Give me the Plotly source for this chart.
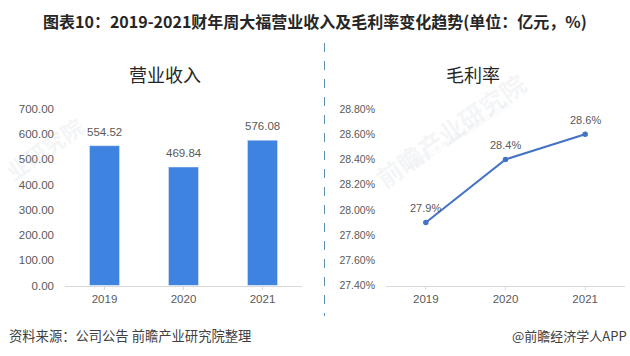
import plotly.graph_objects as go

years = ["2019", "2020", "2021"]
revenue = [554.52, 469.84, 576.08]
margin = [27.9, 28.4, 28.6]
margin_labels = ["27.9%", "28.4%", "28.6%"]
rev_ticks = [0, 100, 200, 300, 400, 500, 600, 700]
margin_ticks = [27.4, 27.6, 27.8, 28.0, 28.2, 28.4, 28.6, 28.8]

W, H = 630, 356
CJK = "Noto Sans CJK SC"
LAT = "Liberation Sans"
GRAY = "#595959"
BLUE = "#3f83e0"
LINE = "#4472c4"
WM = "rgba(185,192,205,0.18)"

fig = go.Figure()
fig.add_trace(go.Bar(x=years, y=revenue, width=0.38, marker_color=BLUE, xaxis="x", yaxis="y", showlegend=False))
fig.add_trace(go.Scatter(x=years, y=margin, mode="lines+markers", line=dict(color=LINE, width=2),
                         marker=dict(size=5.5, color=LINE), xaxis="x2", yaxis="y2", showlegend=False))


def xaxis(dom):
    return dict(domain=dom, type="category", range=[-0.5, 2.5], showgrid=False, showline=True,
                linecolor="#d9d9d9", linewidth=1, ticks="outside", tickcolor="#d9d9d9", ticklen=3,
                tickfont=dict(family=LAT, size=11.5, color=GRAY), zeroline=False)


def yaxis(rng, vals, text, anchor, size):
    return dict(range=rng, tickvals=vals, ticktext=text, showgrid=False, showline=False, zeroline=False,
                tickfont=dict(family=LAT, size=size, color=GRAY), anchor=anchor, ticks="",
                ticklabelstandoff=10, domain=[py(285.5), py(109)])


def px(v):
    return v / W


def py(v):
    return 1 - v / H


notes = [
    ("业研究院", 44, 148, 22, WM, "center", -35, "bold"),
    ("前瞻产业研究院", 450, 130, 25, WM, "center", -35, "bold"),
    ("中国产业咨询领导者(股票 839599)", 458, 135, 8, WM, "center", -32, "normal"),
    ("图表10：2019-2021财年周大福营业收入及毛利率变化趋势(单位：亿元，%)", 315, 21, 16, "#262626", "center", 0, "bold"),
    ("营业收入", 165, 74, 18, "#262626", "center", 0, "normal"),
    ("毛利率", 473, 74, 18, "#262626", "center", 0, "normal"),
    ("资料来源：公司公告 前瞻产业研究院整理", 7, 335, 13.3, "#404040", "left", 0, "normal"),
    ("@前瞻经济学人APP", 629, 335, 13, "#404040", "right", 0, "normal"),
]
annotations = []
for text, x, y, size, color, anchor, angle, weight in notes:
    annotations.append(dict(text=text, x=px(x), y=py(y), xref="paper", yref="paper", showarrow=False,
                            xanchor=anchor, yanchor="middle", textangle=angle,
                            font=dict(family=CJK, size=size, color=color, weight=weight)))
for i, v in enumerate(revenue):
    annotations.append(dict(text=f"{v:.2f}", x=i, y=v, xref="x", yref="y", showarrow=False, yshift=14,
                            yanchor="middle", font=dict(family=LAT, size=11.5, color=GRAY)))
for i, (v, lab) in enumerate(zip(margin, margin_labels)):
    annotations.append(dict(text=lab, x=i, y=v, xref="x2", yref="y2", showarrow=False, yshift=14,
                            yanchor="middle", font=dict(family=LAT, size=11, color=GRAY)))

fig.update_layout(
    width=W, height=H, autosize=False, paper_bgcolor="white", plot_bgcolor="rgba(0,0,0,0)",
    margin=dict(l=0, r=0, t=0, b=0, pad=0, autoexpand=False),
    xaxis=xaxis([px(65), px(302)]),
    yaxis=yaxis([0, 700], rev_ticks, [f"{v:.2f}" for v in rev_ticks], "x", 11.5),
    xaxis2=xaxis([px(386), px(625)]) | dict(anchor="y2"),
    yaxis2=yaxis([27.4, 28.8], margin_ticks, [f"{v:.2f}%" for v in margin_ticks], "x2", 10.5),
    annotations=annotations,
    shapes=[dict(type="line", xref="paper", yref="paper", x0=px(324.5), x1=px(324.5), y0=py(43), y1=py(316),
                 line=dict(color="#5b8fb0", width=1, dash="dash"))],
)
fig.write_html("out.html", config={"displayModeBar": False},
               post_script="document.body.style.margin='0';document.documentElement.style.overflow='hidden';")
